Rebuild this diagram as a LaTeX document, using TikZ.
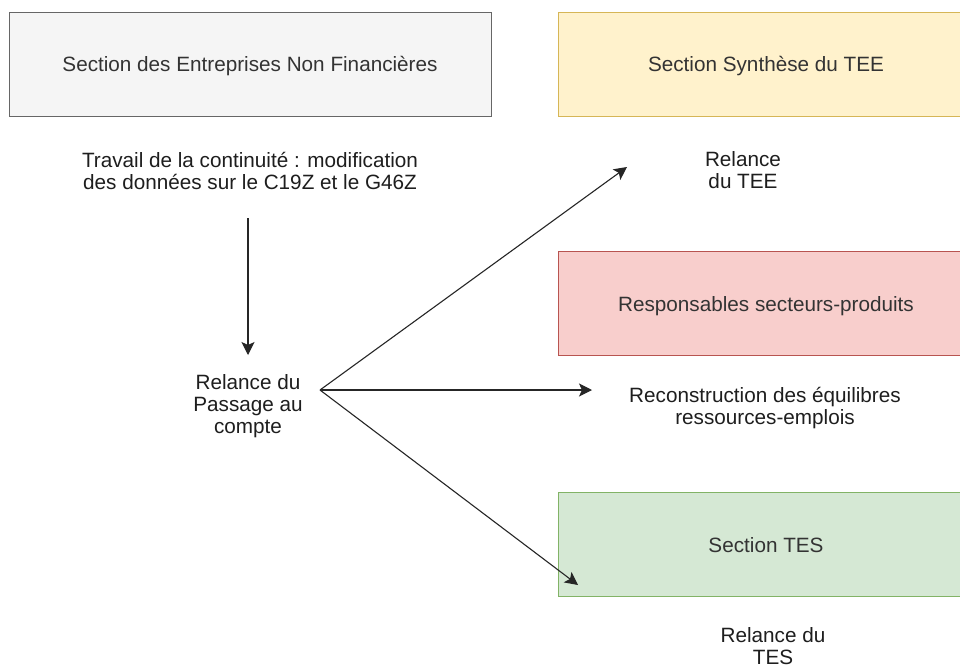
\documentclass[tikz,border=0pt]{standalone}
\usepackage{fontspec}
\setmainfont{Liberation Sans}
\usetikzlibrary{arrows.meta,positioning,calc}
\definecolor{enfstroke}{RGB}{102,102,102}
\definecolor{enffill}{RGB}{245,245,245}
\definecolor{teestroke}{RGB}{214,182,86}
\definecolor{teefill}{RGB}{255,242,204}
\definecolor{prodstroke}{RGB}{184,84,80}
\definecolor{prodfill}{RGB}{248,206,204}
\definecolor{tesstroke}{RGB}{130,179,102}
\definecolor{tesfill}{RGB}{213,232,212}
\definecolor{txtcolor}{RGB}{30,30,30}
\definecolor{boxtxt}{RGB}{51,51,51}
\tikzset{
  section/.style = {rectangle, minimum height=104pt, inner sep=0pt,
                    line width=1pt, text=boxtxt, text depth=0pt,
                    font=\fontsize{20.7}{22}\selectfont},
  enf/.style     = {section, minimum width=482pt, draw=enfstroke, fill=enffill},
  tee/.style     = {section, minimum width=416pt, draw=teestroke, fill=teefill},
  prod/.style    = {section, minimum width=416pt, draw=prodstroke, fill=prodfill},
  tes/.style     = {section, minimum width=416pt, draw=tesstroke, fill=tesfill},
  note/.style    = {align=center, inner sep=0pt, text=txtcolor,
                    font=\fontsize{20.7}{22}\selectfont},
  conn/.style    = {-{Stealth[length=13pt,width=13pt,inset=3pt]},
                    line width=1.1pt, draw=black!85}
}
\begin{document}
\begin{tikzpicture}[x=1pt,y=-1pt]
\useasboundingbox[fill=white] (0,0) rectangle (960,667);

% sections (boxes)
\node[enf]  (enf)  at (250,64)    {Section des Entreprises Non Financières};
\node[tee]  (tee)  at (766,64)    {Section Synthèse du TEE};
\node[prod] (prod) at (766,303.5) {Responsables secteurs-produits};
\node[tes]  (tes)  at (766,544.5) {Section TES};

% free texts
\node[note] (travail) at (250,171) {Travail de la continuité : modification\\des données sur le C19Z et le G46Z};
\node[note] (pac)     at (248,406) {Relance du\\Passage au\\compte};
\node[note] (rtee)    at (743,170) {Relance\\du TEE};
\node[note] (recons)  at (765,408) {Reconstruction des équilibres\\ressources-emplois};
\node[note] (rtes)    at (773,646) {Relance du\\TES};

% arrow end points
\coordinate (down0) at (248,218);
\coordinate (down1) at (248,355);
\coordinate (src)   at (320,390);
\coordinate (toTEE) at (627,167);
\coordinate (toERE) at (592,390);
\coordinate (toTES) at (578,585);

% --- connections ---
\draw[conn] (down0) -- (down1);
\foreach \dst in {toTEE,toERE,toTES}{
  \draw[conn] (src) -- (\dst);
}

\end{tikzpicture}
\end{document}
